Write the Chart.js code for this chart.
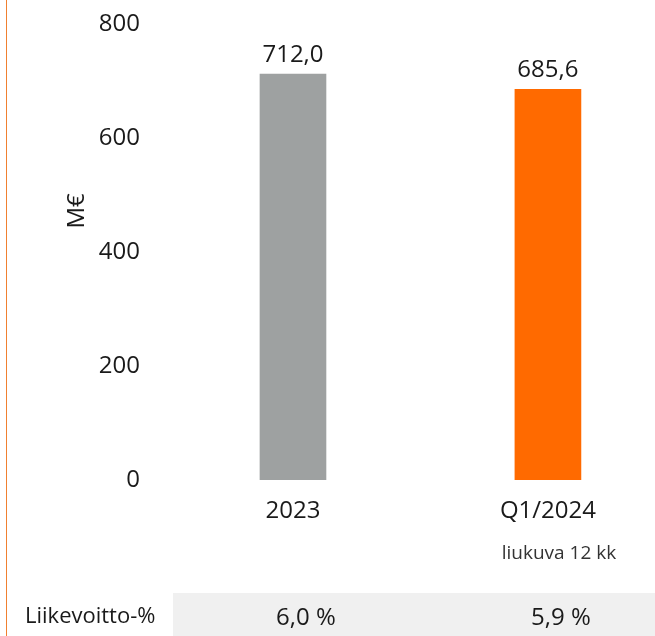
<!DOCTYPE html>
<html>
<head>
<meta charset="utf-8">
<script src="https://cdn.jsdelivr.net/npm/chart.js@4.4.1/dist/chart.umd.min.js"></script>
<style>
  html, body { margin: 0; padding: 0; background: #fff; overflow: hidden; }
  .wrap { position: relative; width: 655px; height: 636px; }
  .edge { position: absolute; left: 6px; top: 0; width: 1px; height: 636px; background: #f08030; }
  canvas { position: absolute; left: 0; top: 0; }
</style>
</head>
<body>
<div class="wrap">
  <canvas id="myChart" width="655" height="636"></canvas>
  <div class="edge"></div>
</div>
<script>
const categories = ['2023', 'Q1/2024'];
const subLabels = ['', 'liukuva 12 kk'];
const revenue = [712.0, 685.6];
const marginLabels = ['6,0 %', '5,9 %'];
const yTicks = [0, 200, 400, 600, 800];
const rowTitle = 'Liikevoitto-%';
const yTitle = 'M€';

const fontFamily = '"Open Sans", "Noto Sans", sans-serif';
const textColor = '#1a1a1a';

const fmt = v => v.toFixed(1).replace('.', ',');

const extras = {
  id: 'extras',
  afterDraw(chart) {
    const c = chart.ctx;
    const area = chart.chartArea;
    const xs = chart.scales.x;
    const meta = chart.getDatasetMeta(0);
    c.save();
    // value labels above bars
    c.fillStyle = textColor;
    c.font = '24px ' + fontFamily;
    c.textAlign = 'center';
    c.textBaseline = 'alphabetic';
    meta.data.forEach((bar, i) => {
      c.fillText(fmt(revenue[i]), bar.x, bar.y - 12);
    });
    // sub labels under categories
    c.font = '19px ' + fontFamily;
    c.fillStyle = '#333';
    subLabels.forEach((s, i) => {
      if (s) c.fillText(s, xs.getPixelForValue(i) + 11, area.bottom + 79);
    });
    // y title
    c.save();
    c.fillStyle = textColor;
    c.font = '24px ' + fontFamily;
    c.translate(area.left - 88, area.top + area.height * 0.41);
    c.rotate(-Math.PI / 2);
    c.textBaseline = 'middle';
    c.fillText(yTitle, 0, 0);
    c.restore();
    // bottom row band
    const bandTop = area.bottom + 113;
    c.fillStyle = '#f0f0f0';
    c.fillRect(area.left + 8, bandTop, chart.width - area.left - 8, chart.height - bandTop);
    c.fillStyle = textColor;
    c.font = '22px ' + fontFamily;
    c.textAlign = 'left';
    c.textBaseline = 'middle';
    c.fillText(rowTitle, 25, bandTop + 24);
    c.font = '24px ' + fontFamily;
    c.textAlign = 'center';
    marginLabels.forEach((m, i) => {
      c.fillText(m, xs.getPixelForValue(i) + 13, bandTop + 25);
    });
    c.restore();
  }
};

const ctx = document.getElementById('myChart').getContext('2d');
const myChart = new Chart(ctx, {
  type: 'bar',
  data: {
    datasets: [{
      data: revenue.map((v, i) => ({ x: i, y: v })),
      backgroundColor: ['rgb(158, 161, 161)', 'rgb(255, 106, 0)'],
      borderWidth: 0,
      barThickness: 66
    }]
  },
  options: {
    responsive: false,
    animation: false,
    events: [],
    layout: { padding: { top: 24, left: 0, right: 0, bottom: 0 } },
    plugins: {
      legend: { display: false },
      tooltip: { enabled: false }
    },
    scales: {
      x: {
        type: 'linear',
        offset: false,
        min: -0.502,
        max: 1.42,
        grid: { display: false, drawTicks: false, offset: false },
        border: { display: false },
        afterBuildTicks: s => { s.ticks = categories.map((_, i) => ({ value: i })); },
        afterFit: s => { s.height = 156; s.paddingLeft = 0; s.paddingRight = 0; },
        ticks: {
          padding: 17,
          color: textColor,
          font: { size: 24, family: fontFamily },
          callback: v => categories[v]
        }
      },
      y: {
        min: 0,
        max: 800,
        grid: { display: false, drawTicks: false },
        border: { display: false },
        afterBuildTicks: s => { s.ticks = yTicks.map(v => ({ value: v })); },
        afterFit: s => { s.width = 165; s.paddingTop = 0; s.paddingBottom = 0; },
        ticks: {
          padding: 25,
          color: textColor,
          font: { size: 24, family: fontFamily }
        }
      }
    }
  },
  plugins: [extras]
});
</script>
</body>
</html>
